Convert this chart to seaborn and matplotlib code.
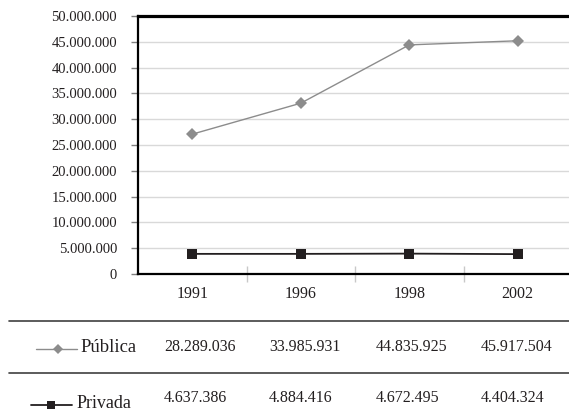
import matplotlib
matplotlib.use("Agg")
import matplotlib.pyplot as plt
from matplotlib.lines import Line2D
import seaborn as sns
import pandas as pd

# ---- data ----
years = ["1991", "1996", "1998", "2002"]
series_names = ["Pública", "Privada"]
publica = [27_100_000, 33_100_000, 44_400_000, 45_200_000]
privada = [3_900_000, 3_900_000, 3_950_000, 3_850_000]
publica_table = ["28.289.036", "33.985.931", "44.835.925", "45.917.504"]
privada_table = ["4.637.386", "4.884.416", "4.672.495", "4.404.324"]
y_ticks = [0, 5_000_000, 10_000_000, 15_000_000, 20_000_000, 25_000_000,
           30_000_000, 35_000_000, 40_000_000, 45_000_000, 50_000_000]

colors = {"Pública": "#8c8c8c", "Privada": "#231f20"}
markers = {"Pública": "D", "Privada": "s"}
msizes = {"Pública": 6.4, "Privada": 7.2}
lwidths = {"Pública": 1.0, "Privada": 1.3}

sns.set_theme(style="white")
plt.rcParams['font.family'] = ['Liberation Serif', 'DejaVu Serif']
TXT = "#231f20"

W, H = 569, 420
fig = plt.figure(figsize=(W / 100, H / 100), dpi=100)
fig.patch.set_facecolor("white")


def fx(x):
    return x / W


def fy(y):
    return 1 - y / H


ax = fig.add_axes([fx(138), fy(274), 434 / W, 258 / H])

df = pd.DataFrame({
    "Ano": years * 2,
    "Valor": publica + privada,
    "Rede": [series_names[0]] * len(years) + [series_names[1]] * len(years),
})

for name in series_names:
    sub = df[df["Rede"] == name]
    sns.pointplot(data=sub, x="Ano", y="Valor", order=years, color=colors[name],
                  markers=markers[name], linestyles="-", errorbar=None,
                  ax=ax, markersize=msizes[name], linewidth=lwidths[name],
                  markeredgewidth=0)

ax.set_xlim(-0.5, len(years) - 0.5)
ax.set_ylim(y_ticks[0], y_ticks[-1])
ax.set_yticks(y_ticks)
ax.set_yticklabels([f"{v:,.0f}".replace(",", ".") for v in y_ticks])
ax.set_xlabel("")
ax.set_ylabel("")

ax.set_axisbelow(True)
ax.yaxis.grid(True, color="#d9d9d9", linewidth=1.0)
ax.xaxis.grid(False)

for side in ["top", "left", "bottom"]:
    ax.spines[side].set_visible(True)
    ax.spines[side].set_color("black")
ax.spines["top"].set_linewidth(2.3)
ax.spines["left"].set_linewidth(1.6)
ax.spines["bottom"].set_linewidth(1.6)
ax.spines["right"].set_visible(False)

ax.tick_params(axis="y", which="major", direction="out", length=5, width=1,
               color="#808080", pad=10, labelsize=10.5, labelcolor=TXT, left=True)
ax.tick_params(axis="x", which="major", length=0, pad=8.5, labelsize=11.5,
               labelcolor=TXT, bottom=True)
ax.set_xticks([i + 0.5 for i in range(len(years) - 1)], minor=True)
ax.tick_params(axis="x", which="minor", direction="inout", length=12, width=1,
               color="#c8c8c8", bottom=True)

# ---- data table below ----
for yline in (320.7, 372.7):
    fig.add_artist(Line2D([fx(9), fx(569)], [fy(yline), fy(yline)],
                          transform=fig.transFigure, color="#404040", lw=1.2))

col_x = [164, 269, 376, 481]
rows = [
    (series_names[0], publica_table, 347, 348, 36, 77, 58, 80, 13.4),
    (series_names[1], privada_table, 398, 404, 31, 72, 51, 77, 13.0),
]
for name, vals, y_num, y_name, lx0, lx1, mx, tx, fs in rows:
    for x, v in zip(col_x, vals):
        fig.text(fx(x), fy(y_num), v, ha="left", va="center", fontsize=11.5,
                 color=TXT)
    fig.text(fx(tx), fy(y_name), name, ha="left", va="center", fontsize=fs,
             color=TXT)
    ly = y_name + 1
    fig.add_artist(Line2D([fx(lx0), fx(lx1)], [fy(ly), fy(ly)],
                          transform=fig.transFigure, color=colors[name],
                          lw=lwidths[name]))
    fig.add_artist(Line2D([fx(mx)], [fy(ly)], transform=fig.transFigure,
                          marker=markers[name], color=colors[name],
                          markersize=msizes[name] * 0.85, markeredgewidth=0,
                          linestyle="none"))

fig.savefig("out.png", dpi=100, facecolor="white")
